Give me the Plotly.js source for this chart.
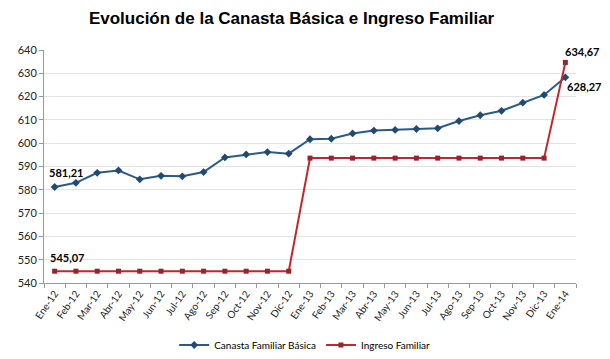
<!DOCTYPE html>
<html><head><meta charset="utf-8">
<script src="https://cdn.plot.ly/plotly-3.0.1.min.js"></script>
<style>body{margin:0;background:#fff}#c{width:610px;height:359px}</style>
</head><body><div id="c"></div>
<script>
const months = ["Ene-12","Feb-12","Mar-12","Abr-12","May-12","Jun-12","Jul-12","Ago-12","Sep-12","Oct-12","Nov-12","Dic-12",
"Ene-13","Feb-13","Mar-13","Abr-13","May-13","Jun-13","Jul-13","Ago-13","Sep-13","Oct-13","Nov-13","Dic-13","Ene-14"];
const canasta = [581.21,583.0,587.3,588.3,584.5,586.0,585.8,587.6,593.9,595.2,596.2,595.5,
601.7,601.9,604.2,605.4,605.7,606.1,606.4,609.5,612.0,613.9,617.4,620.7,628.27];
const ingreso = [545.07,545.07,545.07,545.07,545.07,545.07,545.07,545.07,545.07,545.07,545.07,545.07,
593.6,593.6,593.6,593.6,593.6,593.6,593.6,593.6,593.6,593.6,593.6,593.6,634.67];
const yTicks = [540,550,560,570,580,590,600,610,620,630,640];
const fmt = v => v.toFixed(2).replace('.', ',');
const last = months.length - 1;

const traces = [
  {x: months, y: canasta, name: "Canasta Familiar Básica", type: "scatter", mode: "lines+markers",
   line: {color: "#2a5b88", width: 2}, marker: {symbol: "diamond", size: 6, color: "#1f4a72"}},
  {x: months, y: ingreso, name: "Ingreso Familiar", type: "scatter", mode: "lines+markers",
   line: {color: "#c0282d", width: 2}, marker: {symbol: "square", size: 5, color: "#9a2228"}}
];
const lblFont = {family: "Lato, 'Open Sans', sans-serif", size: 11, color: "#000", weight: 700};
const annotations = [
  {x: months[0], y: canasta[0], text: fmt(canasta[0]), showarrow: false, xanchor: "left", yanchor: "middle", yshift: 14, xshift: -8, font: lblFont},
  {x: months[0], y: ingreso[0], text: fmt(ingreso[0]), showarrow: false, xanchor: "left", yanchor: "middle", yshift: 14, xshift: -7, font: lblFont},
  {x: months[last], y: ingreso[last], text: fmt(ingreso[last]), showarrow: false, xanchor: "left", yanchor: "middle", yshift: 11, xshift: -2, font: lblFont},
  {x: months[last], y: canasta[last], text: fmt(canasta[last]), showarrow: false, xanchor: "left", yanchor: "middle", yshift: -9, xshift: 0, font: lblFont}
];
const layout = {
  width: 610, height: 359,
  margin: {l: 44, r: 34, t: 50, b: 76, autoexpand: false},
  paper_bgcolor: "#fff", plot_bgcolor: "#fff",
  title: {text: "<b>Evolución de la Canasta Básica e Ingreso Familiar</b>", x: 0.478, xanchor: "center", y: 0.95, yanchor: "middle",
          font: {family: "'Liberation Sans', Arial, sans-serif", size: 17, color: "#000"}},
  xaxis: {type: "category", tickangle: -55, tickfont: {family: "Lato, sans-serif", size: 10, color: "#222"},
          showgrid: false, showline: true, linecolor: "#999", ticks: "outside", ticklen: 4, tickcolor: "#999",
          tickson: "boundaries", range: [-0.5, last + 0.5], fixedrange: true, automargin: false},
  yaxis: {range: [540, 640], tickvals: yTicks, ticktext: yTicks.map(String),
          tickfont: {family: "Lato, sans-serif", size: 11, color: "#222"},
          showgrid: true, gridcolor: "#e3e3e3", showline: true, linecolor: "#999", ticks: "outside", ticklen: 4, tickcolor: "#999",
          zeroline: false, fixedrange: true, automargin: false},
  legend: {orientation: "h", x: 0.49, xanchor: "center", y: -0.266, yanchor: "middle",
           font: {family: "Lato, sans-serif", size: 10, color: "#000"}, itemwidth: 30, tracegroupgap: 0},
  annotations: annotations,
  showlegend: true
};
Plotly.newPlot("c", traces, layout, {displayModeBar: false, staticPlot: true});
</script></body></html>
